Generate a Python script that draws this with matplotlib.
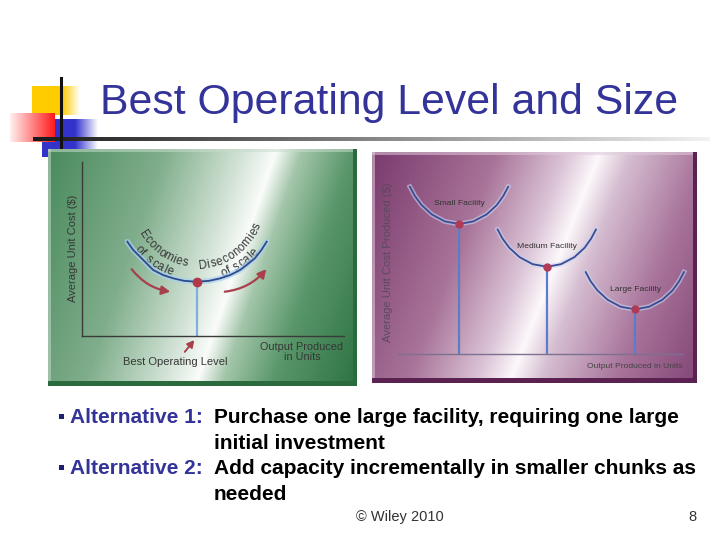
import numpy as np
import matplotlib
matplotlib.use("Agg")
import matplotlib.pyplot as plt
from matplotlib import font_manager as fm
from matplotlib.patches import Rectangle, FancyArrowPatch
from matplotlib.colors import to_rgb

# ---- data ----
# left chart: one cost curve (units 0..10 on both axes)
ECON_X = [1.73, 1.95, 2.21, 2.72, 3.10, 3.49, 3.90, 4.38, 4.85, 5.27, 5.65, 6.03, 6.30, 6.60, 6.85, 7.05]
ECON_Y = [5.42, 4.95, 4.56, 3.79, 3.50, 3.31, 3.17, 3.12, 3.17, 3.31, 3.50, 3.79, 4.10, 4.47, 4.95, 5.42]
BEST_X, BEST_Y = 4.38, 3.12

# right chart: three facility cost curves
FACILITIES = ["Small Facility", "Medium Facility", "Large Facility"]
SMALL_X = [0.42, 0.59, 0.83, 1.19, 1.65, 2.16, 2.65, 3.12, 3.48, 3.71, 3.88]
SMALL_Y = [9.09, 8.60, 8.10, 7.59, 7.21, 7.07, 7.21, 7.59, 8.10, 8.60, 9.09]
MEDIUM_X = [3.51, 3.68, 3.92, 4.28, 4.74, 5.25, 5.74, 6.21, 6.57, 6.80, 6.97]
MEDIUM_Y = [6.77, 6.28, 5.78, 5.27, 4.89, 4.75, 4.89, 5.27, 5.78, 6.28, 6.77]
LARGE_X = [6.61, 6.78, 7.02, 7.38, 7.84, 8.35, 8.84, 9.31, 9.67, 9.90, 10.07]
LARGE_Y = [4.46, 3.97, 3.47, 2.96, 2.58, 2.44, 2.58, 2.96, 3.47, 3.97, 4.46]
MIN_X = [2.16, 5.25, 8.35]
MIN_Y = [7.07, 4.75, 2.44]

TITLE = "Best Operating Level and Size"
BULLETS = [("Alternative 1:", ["Purchase one large facility, requiring one large", "initial investment"]),
           ("Alternative 2:", ["Add capacity incrementally in smaller chunks as", "needed"])]

NAVY = "#333399"
names = {f.name for f in fm.fontManager.ttflist}
NARROW = "Liberation Sans Narrow" if "Liberation Sans Narrow" in names else "Liberation Sans"
NSIZE = 7 if NARROW == "Liberation Sans Narrow" else 6.1
SANS = "Liberation Sans"

fig = plt.figure(figsize=(7.2, 5.4), dpi=100)
ov = fig.add_axes([0, 0, 1, 1])
ov.set_xlim(0, 720); ov.set_ylim(540, 0); ov.axis("off")


def hgrad(x0, x1, y0, y1, c0, c1, z=1, n=200):
    t = np.linspace(0, 1, n)[None, :, None]
    img = (1 - t) * np.array(to_rgb(c0)) + t * np.array(to_rgb(c1))
    ov.imshow(img, extent=(x0, x1, y1, y0), aspect="auto", zorder=z, interpolation="bilinear")


def panel(x0, y0, x1, y1, slope, stops, border, frame):
    w, h = int(x1 - x0), int(y1 - y0)
    yy, xx = np.mgrid[0:h, 0:w]
    u = (xx / w + slope * yy / h) / (1 + slope)
    pos = [s[0] for s in stops]
    img = np.zeros((h, w, 3))
    for k in range(3):
        img[..., k] = np.interp(u, pos, [to_rgb(s[1])[k] for s in stops])
    ov.imshow(img, extent=(x0, x1, y1, y0), aspect="auto", zorder=2, interpolation="bilinear")
    ov.add_patch(Rectangle((x0, y0), 3, y1 - y0, color=frame, zorder=2.5, lw=0, alpha=0.55))
    ov.add_patch(Rectangle((x0, y0), x1 - x0, 3, color=frame, zorder=2.5, lw=0, alpha=0.55))
    ov.add_patch(Rectangle((x1 - 4, y0), 4, y1 - y0, color=border, zorder=3, lw=0))
    ov.add_patch(Rectangle((x0, y1 - 5), x1 - x0, 5, color=border, zorder=3, lw=0))


# ---- slide decoration ----
ov.add_patch(Rectangle((32, 86), 30, 29, color="#FFCC00", zorder=1, lw=0))
hgrad(62, 80, 86, 115, "#FFCC00", "#FFFFFF", z=1)
ov.add_patch(Rectangle((42, 119), 33, 38, color="#3333CC", zorder=1.1, lw=0))
hgrad(75, 98, 119, 157, "#3333CC", "#FFFFFF", z=1.1)
hgrad(10, 55, 113, 142, "#FFF0F0", "#FF1A1A", z=1.2)
ov.plot([61, 61], [78, 150], color="#111111", lw=2.2, zorder=1.5)
hgrad(33, 710, 137.5, 141, "#1a1a1a", "#f2f2f2", z=1.4)

ov.text(100, 114, TITLE, fontsize=30.8, color=NAVY, family=SANS, ha="left", va="baseline")

# ---- picture panels ----
panel(48, 149, 357, 386, 0.263,
      [(0, "#4a8a5d"), (0.3, "#80ae8c"), (0.5, "#d3e3d6"), (0.585, "#fafcfa"),
       (0.65, "#a3c6aa"), (0.78, "#5a976a"), (1, "#2d7242")], "#2b6a3c", "#c8dccc")
panel(372, 152, 697, 383, 0.28,
      [(0, "#7a3a6d"), (0.3, "#a87499"), (0.47, "#dcc5d7"), (0.547, "#fcf8fb"),
       (0.62, "#d6bed1"), (0.8, "#a8749b"), (1, "#834576")], "#5b2150", "#e0cadb")

# ---- left chart ----
axl = fig.add_axes([82 / 720, (540 - 336) / 540, 262 / 720, 174 / 540])
axl.set_facecolor("none")
axl.set_xlim(0, 10); axl.set_ylim(0, 10)
for s in ["top", "right"]:
    axl.spines[s].set_visible(False)
for s in ["left", "bottom"]:
    axl.spines[s].set_color("#3a3a3a"); axl.spines[s].set_linewidth(1.0)
axl.set_xticks([]); axl.set_yticks([])
axl.plot(ECON_X, ECON_Y, color="#a9d0f0", lw=4, alpha=0.7, solid_capstyle="round")
axl.plot(ECON_X, ECON_Y, color="#2d4a8c", lw=1.3)
axl.vlines(BEST_X, 0, BEST_Y, color="#7db0e0", lw=1.6)
axl.plot(BEST_X, BEST_Y, "o", color="#b03a48", ms=6, zorder=5)

red = "#a8404c"
txt = dict(family=SANS, color="#363636")
ov.text(73, 248, "Average Unit Cost ($)", rotation=90, fontsize=8, ha="center", va="center", zorder=6, **txt)
ov.text(175, 362, "Best Operating Level", fontsize=8, ha="center", va="center", zorder=6, **txt)
ov.text(302, 352, "Output Produced\nin Units", fontsize=7.8, ha="center", va="center", linespacing=1.0, zorder=6, **txt)
ov.add_patch(FancyArrowPatch((183, 354), (196, 338), arrowstyle="-|>,head_length=4,head_width=2.2",
                             color=red, lw=1.4, zorder=6))
ov.add_patch(FancyArrowPatch((130, 267), (173, 292), arrowstyle="-|>,head_length=5,head_width=2.6",
                             connectionstyle="arc3,rad=0.22", color=red, lw=1.6, zorder=6))
ov.add_patch(FancyArrowPatch((222, 292), (268, 267), arrowstyle="-|>,head_length=5,head_width=2.6",
                             connectionstyle="arc3,rad=0.22", color=red, lw=1.6, zorder=6))


def arc_text(s, cx, cy, r, a0, a1, **kw):
    wts = np.array([0.6 if c in "iltfr ," else (1.4 if c in "mMwW" else 1.0) for c in s])
    cum = np.cumsum(wts) - wts / 2
    frac = (cum - cum[0]) / (cum[-1] - cum[0])
    for ch, f in zip(s, frac):
        a = np.radians(a0 + (a1 - a0) * f)
        ov.text(cx + r * np.cos(a), cy - r * np.sin(a), ch, rotation=np.degrees(a) + 90,
                ha="center", va="center", rotation_mode="anchor", zorder=6, **kw)


arc_text("Economies", 197, 200.75, 63, 212.5, 259, fontsize=8.3, **txt)
arc_text("of scale", 197, 200.75, 76, 220, 249, fontsize=8.3, **txt)
arc_text("Diseconomies", 197, 200.75, 65, 275.5, 337, fontsize=8.3, **txt)
arc_text("of scale", 197, 200.75, 77, 291, 318, fontsize=8.3, **txt)

# ---- right chart ----
axr = fig.add_axes([398 / 720, (540 - 354.3) / 540, 284 / 720, 184.3 / 540])
axr.set_facecolor("none")
axr.set_xlim(0, 10); axr.set_ylim(0, 10)
for s in ["top", "right", "left"]:
    axr.spines[s].set_visible(False)
axr.spines["bottom"].set_color("#7d7090"); axr.spines["bottom"].set_linewidth(1.0)
axr.set_xticks([]); axr.set_yticks([])
for xs, ys in [(SMALL_X, SMALL_Y), (MEDIUM_X, MEDIUM_Y), (LARGE_X, LARGE_Y)]:
    axr.plot(xs, ys, color="#c8d4f0", lw=3.5, alpha=0.6, clip_on=False)
    axr.plot(xs, ys, color="#3c4c94", lw=1.3, clip_on=False)
axr.vlines(MIN_X, 0, MIN_Y, color="#5b7cc8", lw=1.6)
axr.plot(MIN_X, MIN_Y, "o", color="#b03a58", ms=5, zorder=5, ls="none")
for name, mx, my in zip(FACILITIES, MIN_X, MIN_Y):
    axr.annotate(name, (mx, my), xytext=(0, 14.5), textcoords="offset points", ha="center",
                 va="center", fontsize=NSIZE, family=NARROW, color="#333333")
ov.text(388, 262, "Average Unit Cost Produced ($)", rotation=90, fontsize=8.1, ha="center",
        va="center", zorder=6, family=SANS, color="#5a4a60")
ov.text(635, 367, "Output Produced in Units", fontsize=NSIZE, ha="center", va="center", zorder=6,
        family=NARROW, color="#444444")

# ---- bullets ----
for (lab, lines), y0 in zip(BULLETS, [423, 474]):
    ov.add_patch(Rectangle((59, y0 - 9), 4.5, 4.5, color="#1f1f70", zorder=6, lw=0))
    ov.text(70, y0, lab, fontsize=15, fontweight="bold", color=NAVY, family=SANS, va="baseline")
    for k, line in enumerate(lines):
        ov.text(214, y0 + 26 * k, line, fontsize=15, fontweight="bold", color="black",
                family=SANS, va="baseline")

ov.text(400, 521, "\u00a9 Wiley 2010", fontsize=10.5, color="#333333", family=SANS, ha="center", va="baseline")
ov.text(692, 521, "8", fontsize=10.5, color="#333333", family=SANS, ha="center", va="baseline")

fig.savefig("out.png", dpi=100)
